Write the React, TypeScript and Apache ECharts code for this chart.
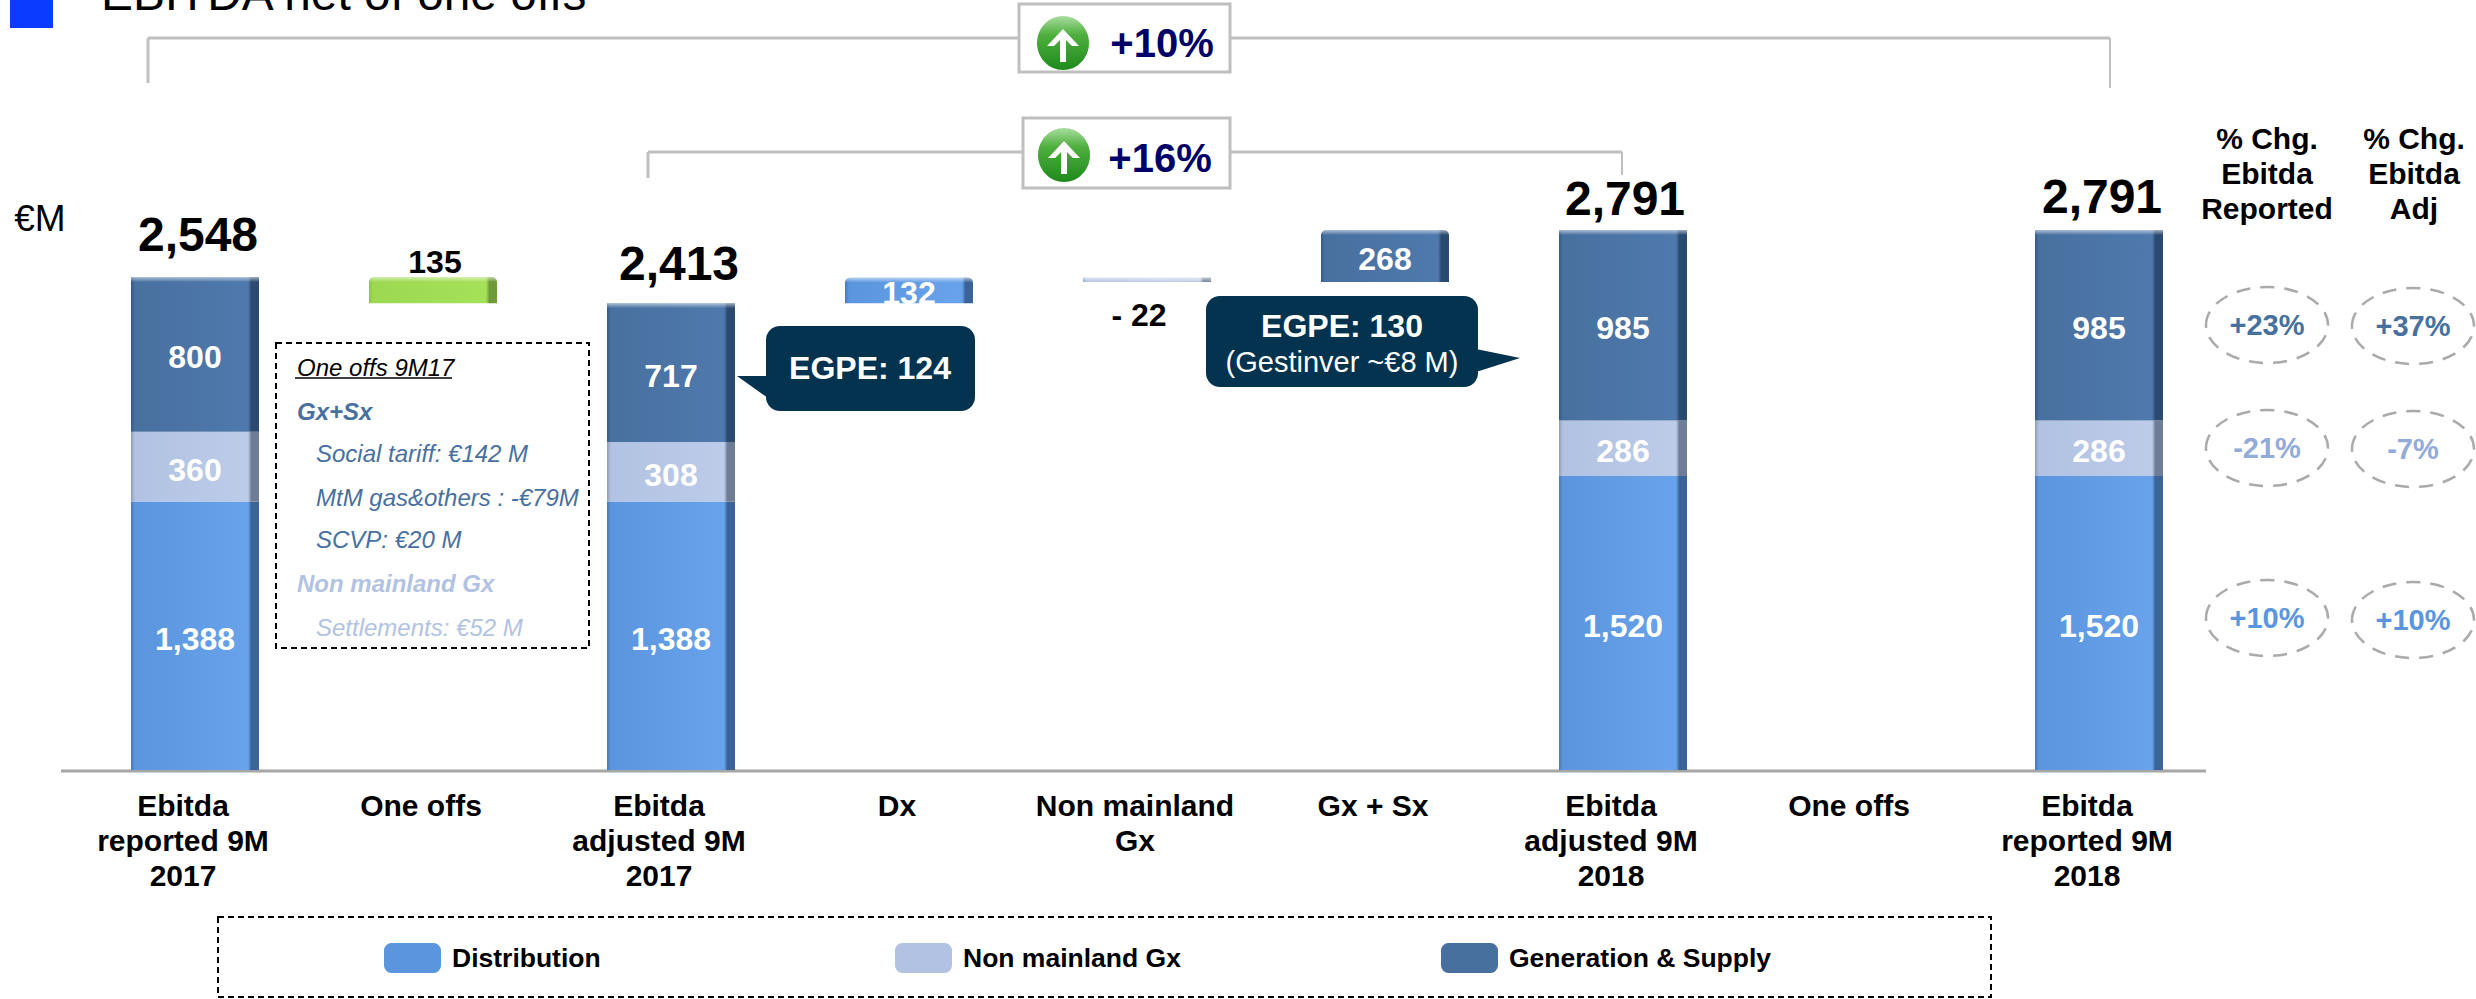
import React, { useEffect, useRef } from "react";
import * as echarts from "echarts";

const categories = [
  "Ebitda\nreported 9M\n2017", "One offs", "Ebitda\nadjusted 9M\n2017", "Dx", "Non mainland\nGx",
  "Gx + Sx", "Ebitda\nadjusted 9M\n2018", "One offs", "Ebitda\nreported 9M\n2018",
];
const baseValues = [null, 2413, null, 2413, 2523, 2523, null, null, null];
const distribution = [1388, null, 1388, 132, null, null, 1520, null, 1520];
const nonMainland = [360, null, 308, null, 22, null, 286, null, 286];
const generation = [800, null, 717, null, null, 268, 985, null, 985];
const oneOffs = [null, 135, null, null, null, null, null, null, null];
const totals = [2548, null, 2413, null, null, null, 2791, null, 2791];
const totalOffsets = [[3, -19], null, [8, -16], null, null, null, [2, -8], null, [3, -10]];
const barTops = [2548, 2548, 2413, 2545, 2545, 2791, 2791, null, 2791];

const FONT = "Liberation Sans";
const fmt = (v: number) => v.toLocaleString("en-US");

const shade = (edge: string, main: string, light: string, strip: string) =>
  new echarts.graphic.LinearGradient(0, 0, 1, 0, [
    { offset: 0, color: edge },
    { offset: 0.03, color: main },
    { offset: 0.88, color: light },
    { offset: 0.915, color: light },
    { offset: 0.94, color: strip },
    { offset: 1, color: strip },
  ]);

const BLUE = "#5B95DE", LIGHT = "#B2C2E2", DARK = "#48709F";
const txt = (text: string, x: number, y: number, fontSize: number, fill: string, extra: any = {}) => ({
  type: "text",
  style: { text, x, y, fontSize, fill, fontFamily: FONT, fontWeight: "bold", align: "center", verticalAlign: "middle", ...extra },
});
const dashedBox = (x: number, y: number, width: number, height: number) => ({
  type: "rect",
  shape: { x, y, width, height },
  style: { fill: "transparent", stroke: "#000", lineWidth: 2, lineDash: [6, 4] },
});
const seg = (x1: number, y1: number, x2: number, y2: number, stroke = "#BFBFBF", lineWidth = 3) => ({
  type: "line",
  shape: { x1, y1, x2, y2 },
  style: { stroke, lineWidth },
});
const upIcon = (cx: number, cy: number) => [
  {
    type: "ellipse",
    shape: { cx, cy, rx: 26, ry: 27 },
    style: {
      fill: new echarts.graphic.LinearGradient(0, 0, 0, 1, [
        { offset: 0, color: "#A9DDA0" },
        { offset: 0.35, color: "#4FAF3E" },
        { offset: 1, color: "#1E8A1C" },
      ]),
    },
  },
  {
    type: "polygon",
    shape: {
      points: [[cx, cy - 14], [cx + 16, cy + 3], [cx + 9, cy + 3], [cx + 3, cy - 3], [cx + 3, cy + 19], [cx - 3, cy + 19], [cx - 3, cy - 3], [cx - 9, cy + 3], [cx - 16, cy + 3]],
    },
    style: { fill: "#fff" },
  },
];
const pctBox = (x: number, y: number, w: number, h: number, label: string, iconX: number, iconY: number, tx: number, ty: number) => [
  { type: "rect", shape: { x, y, width: w, height: h }, style: { fill: "#fff", stroke: "#BFBFBF", lineWidth: 3 } },
  ...upIcon(iconX, iconY),
  txt(label, tx, ty, 40, "#000066"),
];
const pctCircle = (cx: number, cy: number, label: string, color: string, ty = cy) => [
  { type: "ellipse", shape: { cx, cy, rx: 61, ry: 38 }, style: { fill: "transparent", stroke: "#AAAAAA", lineWidth: 2.5, lineDash: [14, 10] } },
  txt(label, cx, ty, 29, color),
];

const graphicElements: any[] = [
  { type: "rect", shape: { x: 10, y: -4, width: 43, height: 32 }, style: { fill: "#0B3BFF" } },
  txt("EBITDA net of one offs", 101, -7, 47.8, "#000", { align: "left", fontWeight: "normal" }),
  txt("€M", 40, 218, 37, "#000", { fontWeight: "normal" }),

  seg(148, 38, 2110, 38), seg(148, 38, 148, 83), seg(2110, 38, 2110, 88, "#BFBFBF", 2),
  seg(648, 152, 1622, 152), seg(648, 152, 648, 178), seg(1622, 152, 1622, 175, "#BFBFBF", 2),
  ...pctBox(1019, 4, 211, 68, "+10%", 1063, 43, 1162, 43),
  ...pctBox(1023, 118, 207, 70, "+16%", 1064, 155, 1160, 158),

  seg(61, 771, 2206, 771, "#A6A6A6", 3),

  dashedBox(276, 343, 313, 305),
  txt("One offs 9M17", 297, 367, 24, "#000", { align: "left", fontStyle: "italic", fontWeight: "normal" }),
  seg(295, 378, 452, 378, "#000", 1.5),
  txt("Gx+Sx", 297, 411, 24, DARK, { align: "left", fontStyle: "italic" }),
  txt("Social tariff: €142 M", 316, 453, 24, DARK, { align: "left", fontStyle: "italic", fontWeight: "normal" }),
  txt("MtM gas&others : -€79M", 316, 497, 24, DARK, { align: "left", fontStyle: "italic", fontWeight: "normal" }),
  txt("SCVP: €20 M", 316, 539, 24, DARK, { align: "left", fontStyle: "italic", fontWeight: "normal" }),
  txt("Non mainland Gx", 297, 583, 24, LIGHT, { align: "left", fontStyle: "italic" }),
  txt("Settlements: €52 M", 316, 627, 24, LIGHT, { align: "left", fontStyle: "italic", fontWeight: "normal" }),

  { type: "polygon", shape: { points: [[737, 376], [768, 376], [768, 398]] }, style: { fill: "#03334F" } },
  { type: "rect", shape: { x: 766, y: 326, width: 209, height: 85, r: 14 }, style: { fill: "#03334F" } },
  txt("EGPE: 124", 870, 368, 32, "#fff"),

  { type: "polygon", shape: { points: [[1520, 358], [1476, 349], [1476, 372]] }, style: { fill: "#03334F" } },
  { type: "rect", shape: { x: 1206, y: 296, width: 272, height: 91, r: 14 }, style: { fill: "#03334F" } },
  txt("EGPE: 130", 1342, 326, 32, "#fff"),
  txt("(Gestinver ~€8 M)", 1342, 362, 29, "#fff", { fontWeight: "normal" }),

  txt("% Chg.", 2267, 138, 30, "#000"),
  txt("Ebitda", 2267, 173, 30, "#000"),
  txt("Reported", 2267, 208, 30, "#000"),
  txt("% Chg.", 2414, 138, 30, "#000"),
  txt("Ebitda", 2414, 173, 30, "#000"),
  txt("Adj", 2414, 208, 30, "#000"),

  ...pctCircle(2267, 325, "+23%", DARK),
  ...pctCircle(2413, 326, "+37%", DARK),
  ...pctCircle(2267, 448, "-21%", "#92ABD8"),
  ...pctCircle(2413, 449, "-7%", "#92ABD8"),
  ...pctCircle(2267, 618, "+10%", BLUE),
  ...pctCircle(2413, 620, "+10%", BLUE),

  dashedBox(218, 917, 1773, 80),
];

const segLabel = { show: true, position: "inside", color: "#fff", fontFamily: FONT, fontWeight: "bold", fontSize: 32, offset: [0, 3], formatter: (p: any) => fmt(p.value) };
const barCommon = { type: "bar", stack: "total", barWidth: 128 };
const rounded = (v: number | null, i: number, idx: number) =>
  i === idx ? { value: v, itemStyle: { borderRadius: [5, 5, 0, 0] } } : v;

export default function App() {
  const ref = useRef<HTMLDivElement>(null);
  useEffect(() => {
    const chart = echarts.init(ref.current!, undefined, { renderer: "svg" });
    const legendAt = (name: string, left: number, color: string) => ({
      data: [{ name, itemStyle: { color } }],
      left, top: 943, padding: 0, itemWidth: 57, itemHeight: 30, itemGap: 0, icon: "roundRect",
      textStyle: { color: "#000", fontFamily: FONT, fontWeight: "bold", fontSize: 26.5, padding: [0, 0, 0, 6] },
    });
    chart.setOption({
      animation: false,
      backgroundColor: "#fff",
      grid: { left: 76, width: 2142, top: 189.6, height: 580.4, containLabel: false },
      xAxis: {
        type: "category", data: categories,
        axisLine: { show: false }, axisTick: { show: false },
        axisLabel: { interval: 0, color: "#000", fontFamily: FONT, fontWeight: "bold", fontSize: 30, lineHeight: 35, margin: 18, verticalAlign: "top", padding: [0, 24, 0, 0] },
      },
      yAxis: { type: "value", min: 0, max: 3000, show: false, splitLine: { show: false } },
      legend: [
        legendAt("Distribution", 384, BLUE),
        legendAt("Non mainland Gx", 895, LIGHT),
        legendAt("Generation & Supply", 1441, DARK),
      ],
      graphic: graphicElements,
      series: [
        { ...barCommon, name: "base", data: baseValues, itemStyle: { color: "transparent" }, silent: true },
        {
          ...barCommon, name: "Distribution", data: distribution.map((v, i) => rounded(v, i, 3)),
          itemStyle: { color: shade("#4A7AB6", BLUE, "#67A2EA", "#3A6497") }, label: segLabel,
        },
        {
          ...barCommon, name: "Non mainland Gx",
          data: nonMainland.map((v, i) => (i === 4 ? { value: v, label: { show: false } } : v)),
          itemStyle: { color: shade("#8F9DB8", LIGHT, "#BCCBE8", "#6F7C95") }, label: segLabel,
        },
        {
          ...barCommon, name: "Generation & Supply", data: generation.map((v, i) => rounded(v, i, 5)),
          itemStyle: { color: shade("#35598A", DARK, "#4F79AC", "#2B4A70") }, label: segLabel,
        },
        {
          ...barCommon, name: "One offs", data: oneOffs,
          itemStyle: { color: shade("#8CC548", "#9CD851", "#A4E058", "#6E9A3A"), borderRadius: [5, 5, 0, 0] },
          label: { show: true, position: "top", distance: 0, offset: [2, 1], color: "#000", fontFamily: FONT, fontWeight: "bold", fontSize: 32 },
        },
        {
          type: "custom", name: "Top bevel", silent: true, z: 3,
          data: barTops.map((v, i) => (v == null ? null : [i, v])),
          renderItem: (_: any, api: any) => {
            const p = api.coord([api.value(0), api.value(1)]);
            return {
              type: "rect",
              shape: { x: p[0] - 64, y: p[1], width: 128, height: 5 },
              style: {
                fill: new echarts.graphic.LinearGradient(0, 0, 0, 1, [
                  { offset: 0, color: "rgba(255,255,255,0.55)" },
                  { offset: 1, color: "rgba(255,255,255,0)" },
                ]),
              },
            };
          },
        },
        {
          type: "scatter", name: "Total", symbolSize: 0, silent: true, z: 5, itemStyle: { opacity: 1 },
          data: totals.map((v, i) => v == null ? null : {
            value: [i, v],
            label: { show: true, position: "top", distance: 0, offset: totalOffsets[i], formatter: fmt(v), color: "#000", opacity: 1, fontFamily: FONT, fontWeight: "bold", fontSize: 48 },
          }),
        },
        {
          type: "scatter", name: "Change", symbolSize: 0, silent: true, z: 5, itemStyle: { opacity: 1 },
          data: [{
            value: [4, baseValues[4]],
            label: { show: true, position: "bottom", distance: 0, offset: [-8, 17], formatter: "- " + nonMainland[4], color: "#000", opacity: 1, fontFamily: FONT, fontWeight: "bold", fontSize: 32 },
          }],
        },
      ],
    });
    return () => chart.dispose();
  }, []);
  return <div ref={ref} style={{ position: "absolute", left: 0, top: 0, width: 2476, height: 999 }} />;
}
